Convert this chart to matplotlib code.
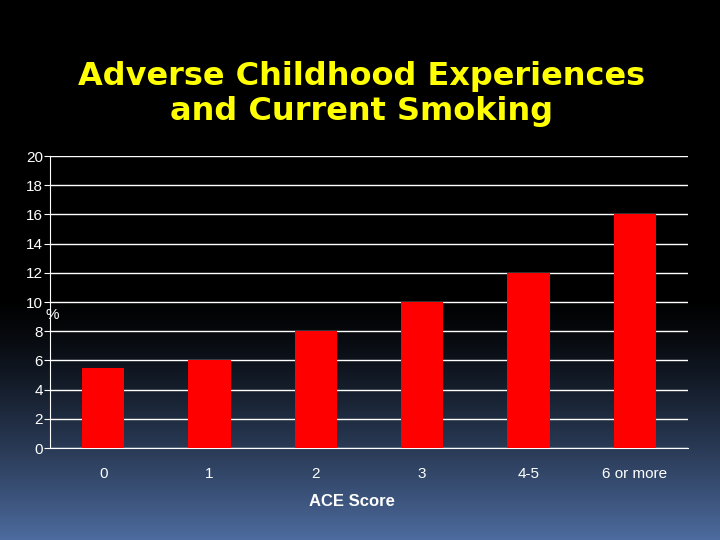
import numpy as np
import matplotlib.pyplot as plt

CATEGORIES = ["0", "1", "2", "3", "4-5", "6 or more"]
SMOKING_PCT = [5.5, 6, 8, 10, 12, 16]
Y_TICKS = [0, 2, 4, 6, 8, 10, 12, 14, 16, 18, 20]


def main() -> None:
    plt.rcParams["font.family"] = ["Liberation Sans", "DejaVu Sans"]
    fig = plt.figure(figsize=(7.2, 5.4), dpi=100)

    # background gradient: black top, slate blue at the bottom
    bg = fig.add_axes([0, 0, 1, 1], zorder=-1)
    t = np.linspace(0, 1, 540)
    ramp = np.clip((t - 0.55) / 0.45, 0, 1) ** 1.3
    top = np.array([0.0, 0.0, 0.0])
    bot = np.array([0.30, 0.42, 0.62])
    cols = top[None, :] * (1 - ramp[:, None]) + bot[None, :] * ramp[:, None]
    bg.imshow(cols[:, None, :], aspect="auto", extent=[0, 1, 0, 1])
    bg.axis("off")

    ax = fig.add_axes([50 / 720, 1 - 448 / 540, 638 / 720, 292 / 540])
    ax.patch.set_alpha(0)
    x = np.arange(len(CATEGORIES))
    ax.bar(x, SMOKING_PCT, width=0.4, color="#ff0000", zorder=3)
    ax.set_xlim(-0.5, len(CATEGORIES) - 0.5)
    ax.set_ylim(0, 20)
    ax.set_yticks(Y_TICKS)
    ax.set_xticks(x)
    ax.set_xticklabels(CATEGORIES)
    ax.tick_params(axis="y", colors="white", labelsize=11, length=4, direction="out", pad=1)
    ax.tick_params(axis="x", colors="white", labelsize=11, length=0, pad=14)
    ax.grid(axis="y", color="white", lw=1, zorder=0)
    for s in ["top", "right"]:
        ax.spines[s].set_visible(False)
    ax.spines["left"].set_color("white")
    ax.spines["bottom"].set_color("white")

    fig.text(52 / 720, 1 - 315 / 540, "%", color="white", fontsize=11, ha="center", va="center")
    fig.text(352 / 720, 1 - 502 / 540, "ACE Score", color="white", fontsize=12,
             fontweight="bold", ha="center", va="center")
    fig.text(362 / 720, 1 - 94 / 540, "Adverse Childhood Experiences\nand Current Smoking",
             color="#ffff00", fontsize=23, fontweight="bold", ha="center", va="center",
             linespacing=1.15, family="DejaVu Sans")

    fig.savefig("out.png", dpi=100)


if __name__ == "__main__":
    main()
